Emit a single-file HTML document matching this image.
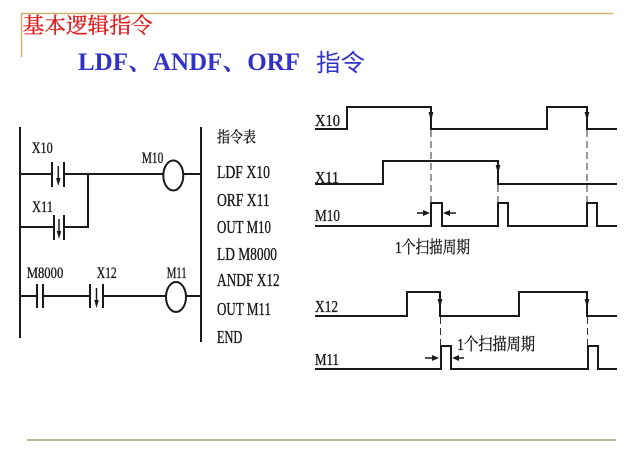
<!DOCTYPE html>
<html><head><meta charset="utf-8"><style>
html,body{margin:0;padding:0;background:#fff;}
svg{display:block;}
.t{font-family:"Liberation Serif","Noto Serif CJK SC",serif;fill:#1a1a1a;stroke:#1a1a1a;stroke-width:0.35;}
</style></head><body>
<svg width="640" height="452" viewBox="0 0 640 452" xmlns="http://www.w3.org/2000/svg">
<rect width="640" height="452" fill="#fff"/>
<!-- frame lines -->
<line x1="21" y1="13.5" x2="613" y2="13.5" stroke="#c9b273" stroke-width="1.5"/>
<line x1="21.5" y1="13" x2="21.5" y2="57" stroke="#c9b273" stroke-width="1.5"/>
<line x1="27" y1="440" x2="616" y2="440" stroke="#b8b88e" stroke-width="2"/>
<!-- titles -->
<text x="22.7" y="33" font-size="21.5" fill="#e01818" stroke="#e01818" stroke-width="0.3" font-family="'Noto Serif CJK SC','Noto Sans CJK SC',serif" textLength="130" lengthAdjust="spacingAndGlyphs">基本逻辑指令</text>
<text x="78" y="70" font-size="25" font-weight="bold" fill="#3232c4" font-family="'Liberation Serif','Noto Serif CJK SC',serif" textLength="222" lengthAdjust="spacingAndGlyphs">LDF、ANDF、ORF</text>
<text x="316" y="71" font-size="24" fill="#3232c4" font-family="'Noto Sans CJK SC',sans-serif" textLength="49" lengthAdjust="spacingAndGlyphs">指令</text>

<!-- ladder diagram -->
<g stroke="#1a1a1a" stroke-width="2" fill="none">
<line x1="20" y1="127" x2="20" y2="338"/>
<line x1="201" y1="127" x2="201" y2="342"/>
<!-- rung 1 -->
<line x1="20" y1="174" x2="52" y2="174"/>
<line x1="52" y1="162" x2="52" y2="187"/>
<line x1="64" y1="162" x2="64" y2="187"/>
<line x1="64" y1="174" x2="163" y2="174"/>
<ellipse cx="173.3" cy="175.5" rx="10" ry="15"/>
<line x1="183.3" y1="174" x2="201" y2="174"/>
<!-- rung 2 -->
<line x1="20" y1="227" x2="54" y2="227"/>
<line x1="54" y1="215" x2="54" y2="240"/>
<line x1="64" y1="215" x2="64" y2="240"/>
<line x1="64" y1="227" x2="88" y2="227"/>
<line x1="88" y1="174" x2="88" y2="228"/>
<!-- rung 3 -->
<line x1="20" y1="296" x2="37" y2="296"/>
<line x1="37" y1="284" x2="37" y2="308"/>
<line x1="43" y1="284" x2="43" y2="308"/>
<line x1="43" y1="296" x2="90" y2="296"/>
<line x1="90" y1="284" x2="90" y2="308"/>
<line x1="103" y1="284" x2="103" y2="308"/>
<line x1="103" y1="296" x2="166" y2="296"/>
<ellipse cx="176" cy="297" rx="10" ry="15"/>
<line x1="186" y1="296" x2="201" y2="296"/>
</g>
<!-- contact arrows -->
<g stroke="#1a1a1a" stroke-width="1.5" fill="#1a1a1a">
<line x1="58.3" y1="166" x2="58.3" y2="180"/>
<polygon points="56,178 60.6,178 58.3,186" stroke="none"/>
<line x1="59" y1="219" x2="59" y2="233"/>
<polygon points="56.7,231 61.3,231 59,239" stroke="none"/>
<line x1="96.5" y1="288" x2="96.5" y2="302"/>
<polygon points="94.2,300 98.8,300 96.5,308" stroke="none"/>
</g>
<!-- ladder labels -->
<g class="t" font-size="16">
<text x="31.7" y="153" textLength="21" lengthAdjust="spacingAndGlyphs">X10</text>
<text x="32" y="212" textLength="21" lengthAdjust="spacingAndGlyphs">X11</text>
<text x="141.7" y="163" textLength="21.6" lengthAdjust="spacingAndGlyphs">M10</text>
<text x="26.7" y="278" textLength="36.6" lengthAdjust="spacingAndGlyphs">M8000</text>
<text x="96.7" y="278" textLength="20" lengthAdjust="spacingAndGlyphs">X12</text>
<text x="166.7" y="278" textLength="20" lengthAdjust="spacingAndGlyphs">M11</text>
</g>

<!-- instruction list -->
<g class="t" font-size="18">
<text x="217" y="142" textLength="39" lengthAdjust="spacingAndGlyphs" font-family="'Noto Serif CJK SC',serif" font-size="15">指令表</text>
<text x="217" y="178" textLength="53" lengthAdjust="spacingAndGlyphs">LDF X10</text>
<text x="217" y="206" textLength="52.7" lengthAdjust="spacingAndGlyphs">ORF X11</text>
<text x="217" y="233" textLength="54" lengthAdjust="spacingAndGlyphs">OUT M10</text>
<text x="217" y="260" textLength="60" lengthAdjust="spacingAndGlyphs">LD M8000</text>
<text x="217" y="286" textLength="62.7" lengthAdjust="spacingAndGlyphs">ANDF X12</text>
<text x="217" y="315" textLength="54" lengthAdjust="spacingAndGlyphs">OUT M11</text>
<text x="217" y="343" textLength="25.3" lengthAdjust="spacingAndGlyphs">END</text>
</g>

<!-- waveforms -->
<g stroke="#1a1a1a" stroke-width="2" fill="none">
<path d="M315,129 H347 V107 H431 V129 H547 V107 H587 V129 H617"/>
<path d="M315,184 H383 V161 H498 V184 H617"/>
<path d="M315,226 H431 V203 H442 V226 H498 V203 H508 V226 H587 V203 H597 V226 H617"/>
<path d="M315,316 H407 V292 H440 V316 H519 V292 H587 V316 H617"/>
<path d="M315,369 H441 V346 H451 V369 H588 V346 H598 V369 H617"/>
</g>
<g stroke="#333" stroke-width="1" stroke-dasharray="7,4" fill="none">
<line x1="431" y1="130" x2="431" y2="203"/>
<line x1="498" y1="185" x2="498" y2="203"/>
<line x1="587" y1="130" x2="587" y2="203"/>
<line x1="440.5" y1="317" x2="440.5" y2="346"/>
<line x1="587.5" y1="317" x2="587.5" y2="346"/>
</g>
<g fill="#1a1a1a">
<polygon points="428.6,112 433.4,112 431,121"/>
<polygon points="495.6,165 500.4,165 498,174"/>
<polygon points="584.6,112 589.4,112 587,121"/>
<polygon points="437.6,299 442.4,299 440,308"/>
<polygon points="584.6,299 589.4,299 587,308"/>
<!-- scan arrows -->
<polygon points="423,210 423,216 430,213"/>
<polygon points="450,210 450,216 443,213"/>
<polygon points="432,355 432,361 439,358"/>
<polygon points="459,355 459,361 452,358"/>
</g>
<g stroke="#1a1a1a" stroke-width="1.5">
<line x1="417" y1="213" x2="424" y2="213"/>
<line x1="449" y1="213" x2="456" y2="213"/>
<line x1="425" y1="358" x2="433" y2="358"/>
<line x1="458" y1="358" x2="464" y2="358"/>
</g>
<!-- waveform labels -->
<g class="t" font-size="17">
<text x="315" y="126" textLength="25" lengthAdjust="spacingAndGlyphs">X10</text>
<text x="315" y="183" textLength="24" lengthAdjust="spacingAndGlyphs">X11</text>
<text x="315" y="221" textLength="25" lengthAdjust="spacingAndGlyphs">M10</text>
<text x="315" y="312" textLength="23" lengthAdjust="spacingAndGlyphs">X12</text>
<text x="315" y="365" textLength="24" lengthAdjust="spacingAndGlyphs">M11</text>
</g>
<g class="t" font-size="17" stroke-width="0.2" font-family="'Liberation Serif','Noto Serif CJK SC',serif">
<text x="395" y="253" textLength="75" lengthAdjust="spacingAndGlyphs">1个扫描周期</text>
<text x="457" y="350" textLength="78" lengthAdjust="spacingAndGlyphs">1个扫描周期</text>
</g>
</svg>
</body></html>
